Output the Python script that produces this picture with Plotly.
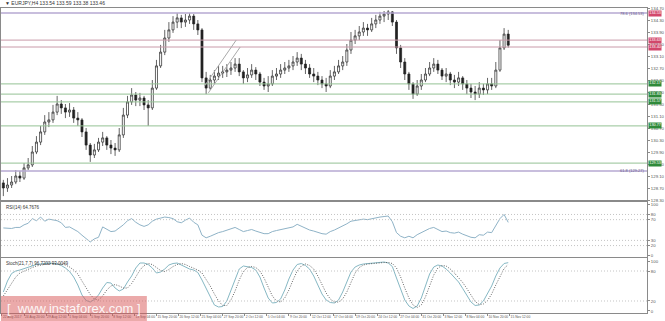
import plotly.graph_objects as go
from plotly.subplots import make_subplots

SYMBOL = "EURJPY,H4"
LAST_BAR = [133.54, 133.59, 133.38, 133.46]
FIRST_OPEN = 128.87

CLOSE = [128.70, 128.80, 128.90, 129.10, 129.03, 129.37, 129.47, 129.90, 130.23, 130.57,
         130.90, 130.97, 131.23, 131.50, 131.37, 131.23, 131.30, 131.03, 130.97, 130.57,
         130.13, 129.80, 129.97, 130.23, 130.37, 130.13, 130.03, 129.97, 130.47, 131.13,
         131.57, 131.80, 131.63, 131.70, 131.47, 131.37, 132.03, 132.77, 133.23, 133.70,
         133.97, 134.23, 134.37, 134.23, 134.30, 134.43, 134.17, 133.97, 132.37, 132.03,
         132.30, 132.43, 132.53, 132.57, 132.63, 132.70, 132.83, 132.57, 132.37, 132.47,
         132.63, 132.50, 132.23, 132.10, 132.17, 132.43, 132.50, 132.63, 132.70, 132.77,
         132.90, 133.03, 132.83, 132.70, 132.50, 132.43, 132.30, 132.17, 132.10, 132.43,
         132.57, 132.77, 132.90, 133.30, 133.63, 133.77, 133.90, 134.03, 133.97, 134.17,
         134.30, 134.43, 134.50, 134.57, 134.23, 133.37, 132.90, 132.50, 132.17, 131.83,
         132.10, 132.30, 132.50, 132.70, 132.83, 132.63, 132.43, 132.50, 132.30, 132.23,
         132.37, 132.17, 132.03, 131.90, 131.83, 132.03, 131.97, 132.17, 132.10, 132.63,
         133.37, 133.83, 133.46]
HIGH = [128.97, 129.03, 129.10, 129.30, 129.27, 129.53, 129.70, 130.10, 130.43, 130.77,
        131.13, 131.23, 131.47, 131.77, 131.63, 131.50, 131.53, 131.40, 131.23, 131.03,
        130.70, 130.20, 130.17, 130.37, 130.57, 130.43, 130.30, 130.20, 130.70, 131.37,
        131.77, 132.03, 131.90, 131.87, 131.77, 131.63, 132.30, 132.97, 133.47, 133.97,
        134.23, 134.43, 134.53, 134.47, 134.50, 134.53, 134.50, 134.30, 134.03, 132.57,
        132.47, 132.63, 132.77, 132.77, 132.83, 132.90, 133.03, 133.03, 132.63, 132.70,
        132.83, 132.73, 132.57, 132.37, 132.43, 132.63, 132.70, 132.83, 132.90, 132.97,
        133.10, 133.23, 133.17, 132.97, 132.83, 132.70, 132.57, 132.43, 132.37, 132.63,
        132.77, 132.97, 133.10, 133.50, 133.90, 133.97, 134.10, 134.23, 134.17, 134.37,
        134.47, 134.57, 134.60, 134.63, 134.60, 134.30, 133.47, 133.03, 132.57, 132.23,
        132.30, 132.50, 132.70, 132.90, 133.03, 132.97, 132.70, 132.70, 132.57, 132.47,
        132.57, 132.43, 132.30, 132.17, 132.10, 132.23, 132.17, 132.37, 132.37, 132.90,
        133.63, 134.03, 133.97]
LOW = [128.43, 128.57, 128.70, 128.83, 128.90, 128.97, 129.30, 129.40, 129.83, 130.13,
       130.47, 130.73, 130.87, 131.13, 131.17, 131.03, 131.07, 130.87, 130.77, 130.40,
       129.97, 129.57, 129.70, 129.90, 130.10, 129.97, 129.83, 129.77, 129.90, 130.37,
       131.03, 131.47, 131.43, 131.43, 131.30, 130.77, 131.30, 131.97, 132.70, 133.13,
       133.57, 133.87, 134.03, 134.03, 134.07, 134.17, 133.97, 133.80, 132.23, 131.83,
       131.97, 132.17, 132.30, 132.37, 132.40, 132.47, 132.57, 132.43, 132.17, 132.23,
       132.37, 132.30, 132.10, 131.97, 131.90, 132.10, 132.30, 132.37, 132.50, 132.57,
       132.63, 132.77, 132.63, 132.50, 132.37, 132.23, 132.13, 132.03, 131.90, 132.03,
       132.30, 132.50, 132.63, 132.77, 133.17, 133.50, 133.63, 133.77, 133.77, 133.90,
       134.03, 134.17, 134.23, 134.30, 134.10, 133.17, 132.70, 132.30, 131.97, 131.67,
       131.77, 131.97, 132.23, 132.43, 132.57, 132.50, 132.30, 132.23, 132.13, 132.03,
       132.10, 131.97, 131.83, 131.70, 131.63, 131.70, 131.80, 131.83, 131.97, 132.03,
       132.57, 133.30, 133.38]

RSI = [54, 53, 53, 55, 55, 60, 63, 72, 68, 75, 67, 71, 70, 68, 64, 55, 56, 52, 47, 40,
       33, 27, 33, 36, 56, 52, 47, 48, 54, 60, 68, 72, 65, 60, 57, 60, 67, 71, 73, 75,
       74, 72, 66, 64, 69, 73, 65, 60, 40, 35, 38, 42, 45, 47, 50, 53, 55, 51, 47, 49,
       51, 48, 45, 43, 43, 47, 49, 51, 52, 54, 56, 61, 57, 54, 50, 48, 45, 43, 42, 47,
       50, 54, 57, 62, 67, 68, 70, 71, 70, 72, 74, 75, 76, 77, 66, 45, 38, 35, 38, 35,
       41, 45, 49, 53, 55, 51, 47, 48, 45, 44, 46, 42, 39, 36, 35, 41, 40, 46, 45, 58,
       72, 80, 64.7676]
STOCH_K = [38, 60, 75, 80, 82, 85, 88, 91, 93, 94, 95, 96, 95, 94, 91, 86, 79, 68, 52, 32,
           21, 18, 23, 32, 46, 57, 56, 46, 40, 44, 58, 70, 86, 96, 96, 93, 86, 76, 78, 84,
           92, 95, 96, 92, 87, 84, 82, 77, 62, 45, 28, 12, 8, 9, 20, 42, 65, 84, 90, 89,
           87, 82, 68, 46, 26, 16, 17, 24, 42, 64, 82, 93, 95, 91, 84, 70, 52, 34, 22, 17,
           16, 22, 38, 60, 78, 88, 92, 94, 95, 96, 97, 97, 98, 96, 89, 66, 42, 22, 10, 5,
           10, 26, 50, 74, 88, 92, 90, 84, 76, 66, 58, 45, 30, 18, 11, 12, 20, 35, 50, 70,
           86, 95, 96.7202]
STOCH_D = [30, 42, 55, 68, 76, 80, 84, 87, 90, 92, 93, 95, 95, 95, 94, 92, 88, 82, 74, 60,
           46, 33, 24, 22, 30, 42, 50, 53, 50, 46, 46, 55, 68, 82, 91, 95, 93, 87, 81, 79,
           83, 89, 93, 95, 93, 89, 85, 82, 76, 64, 50, 34, 20, 11, 11, 22, 40, 62, 79, 87,
           89, 87, 80, 66, 48, 30, 20, 18, 26, 42, 62, 80, 90, 94, 91, 84, 70, 53, 36, 24,
           18, 18, 24, 38, 58, 76, 87, 92, 94, 95, 96, 97, 97, 97, 95, 86, 68, 46, 26, 12,
           7, 12, 28, 50, 72, 86, 91, 90, 84, 76, 67, 57, 45, 31, 19, 13, 14, 21, 34, 52,
           70, 85, 93.0049]

X_LABELS = ["22 Aug 2017", "24 Aug 20:00", "29 Aug 12:00", "1 Sep 04:00", "5 Sep 20:00",
            "8 Sep 12:00", "13 Sep 04:00", "15 Sep 20:00", "20 Sep 12:00", "25 Sep 04:00",
            "27 Sep 20:00", "2 Oct 12:00", "5 Oct 04:00", "9 Oct 20:00", "12 Oct 12:00",
            "17 Oct 04:00", "19 Oct 20:00", "24 Oct 12:00", "27 Oct 04:00", "31 Oct 20:00",
            "3 Nov 12:00", "8 Nov 04:00", "10 Nov 20:00", "15 Nov 12:00"]
PRICE_TICKS = [134.70, 134.30, 133.90, 133.50, 133.10, 132.70, 132.30, 131.90, 131.50,
               131.10, 130.70, 130.30, 129.90, 129.50, 129.10, 128.70, 128.30]
RES_LEVELS = [133.63, 133.40]
SUP_LEVELS = [132.17, 131.83, 131.57, 130.77, 129.53]
FIB_LEVELS = [("78.6", 134.53), ("61.8", 129.27)]
CHANNEL = [((146.8, 132.10), (169.8, 133.63)), ((149.6, 131.87), (172.7, 133.40))]
RSI_LEVELS = [80, 70, 30, 20]
RSI_TICKS = [100, 80, 70, 30, 20, 0]
STOCH_LEVELS = [80, 20]
STOCH_TICKS = [100, 80, 20, 0]

BARS_PER_CANDLE = 3
BARS_PER_LABEL = 16
X_RANGE = [-0.7, 467.6]
Y_RANGE = [128.30, 134.70]

FONT = "Liberation Sans"
AXIS_COL = "#8a8a8a"
TXT_COL = "#555555"
RED = "#d2476b"
RED_LINE = "#c99aa9"
GREEN = "#2f8a3a"
GREEN_LINE = "#94c294"
FIB_COL = "#b6a8d2"

xs = [BARS_PER_CANDLE * i + 1 for i in range(len(CLOSE))]
opens = [FIRST_OPEN] + CLOSE[:-1]

fig = make_subplots(rows=3, cols=1, shared_xaxes=True, vertical_spacing=0)

fig.add_trace(go.Candlestick(
    x=xs, open=opens, high=HIGH, low=LOW, close=CLOSE,
    increasing=dict(line=dict(color="#222222", width=0.7), fillcolor="#ffffff"),
    decreasing=dict(line=dict(color="#222222", width=0.7), fillcolor="#222222"),
    whiskerwidth=0, showlegend=False, hoverinfo="skip"), row=1, col=1)

fig.add_trace(go.Scatter(x=xs, y=RSI, mode="lines",
                         line=dict(color="#8fb3c7", width=1), showlegend=False), row=2, col=1)
fig.add_trace(go.Scatter(x=xs, y=STOCH_K, mode="lines",
                         line=dict(color="#86b8c4", width=1), showlegend=False), row=3, col=1)
fig.add_trace(go.Scatter(x=xs, y=STOCH_D, mode="lines",
                         line=dict(color="#555555", width=0.9, dash="1px,1.5px"),
                         showlegend=False), row=3, col=1)

shapes = []
annots = []
small = dict(family=FONT, size=4, color=TXT_COL)


def box(lvl, color):
    return dict(xref="paper", x=1, xanchor="left", xshift=1, yref="y", y=lvl,
                text=f"{lvl:.2f}", showarrow=False, bgcolor=color, borderpad=0.3,
                font=dict(family=FONT, size=3.8, color="white"))


for lvl in RES_LEVELS:
    shapes.append(dict(type="line", xref="paper", x0=0, x1=1, yref="y", y0=lvl, y1=lvl,
                       line=dict(color=RED_LINE, width=1)))
    annots.append(box(lvl, RED))
for lvl in SUP_LEVELS:
    shapes.append(dict(type="line", xref="paper", x0=0, x1=1, yref="y", y0=lvl, y1=lvl,
                       line=dict(color=GREEN_LINE, width=1)))
    annots.append(box(lvl, GREEN))
for name, lvl in FIB_LEVELS:
    shapes.append(dict(type="line", xref="paper", x0=0, x1=1, yref="y", y0=lvl, y1=lvl,
                       line=dict(color=FIB_COL, width=1.5)))
    annots.append(dict(xref="paper", x=1, xanchor="right", xshift=-1, yref="y", y=lvl,
                       yanchor="middle", text=f"{name} ({lvl:.2f})", showarrow=False,
                       font=dict(family=FONT, size=4, color="#6a5a8c")))
annots.append(box(FIB_LEVELS[0][1], RED))

for (a, b) in CHANNEL:
    shapes.append(dict(type="line", xref="x", yref="y", x0=a[0], y0=a[1], x1=b[0], y1=b[1],
                       line=dict(color="#aaaaaa", width=1)))

for lvl in RSI_LEVELS:
    shapes.append(dict(type="line", xref="paper", x0=0, x1=1, yref="y2", y0=lvl, y1=lvl,
                       line=dict(color="#c4c4c4", width=1, dash="1px,2px")))
for lvl in STOCH_LEVELS:
    shapes.append(dict(type="line", xref="paper", x0=0, x1=1, yref="y3", y0=lvl, y1=lvl,
                       line=dict(color="#c4c4c4", width=1, dash="1px,2px")))

# watermark
shapes.append(dict(type="rect", xref="paper", yref="paper", x0=0, x1=0.2258, y0=-0.03, y1=0.0557,
                   fillcolor="rgba(215,85,85,0.5)", line=dict(width=0), layer="above"))
annots.append(dict(xref="paper", yref="paper", x=0.113, y=0.015, xanchor="center", yanchor="middle",
                   text="[  www.instaforex.com ]", showarrow=False,
                   font=dict(family=FONT, size=13, color="rgba(255,255,255,0.92)")))

header = "\u25bc " + SYMBOL + " " + " ".join(f"{v:.2f}" for v in LAST_BAR)
annots.append(dict(xref="paper", yref="paper", x=0, y=1, xanchor="left", yanchor="bottom",
                   xshift=2, yshift=0, text=header, showarrow=False,
                   font=dict(family=FONT, size=5, color="#333333")))
annots.append(dict(xref="paper", yref="y2 domain", x=0, y=1, xanchor="left", yanchor="top",
                   xshift=3, yshift=-1, text=f"RSI(14) {RSI[-1]:.4f}", showarrow=False,
                   font=dict(family=FONT, size=4.5, color="#333333")))
annots.append(dict(xref="paper", yref="y3 domain", x=0, y=1, xanchor="left", yanchor="top",
                   xshift=3, yshift=-1,
                   text=f"Stoch(21,7,7) {STOCH_K[-1]:.4f} {STOCH_D[-1]:.4f}", showarrow=False,
                   font=dict(family=FONT, size=4.5, color="#333333")))

axis_common = dict(showline=True, mirror=True, linecolor=AXIS_COL, linewidth=1,
                   showgrid=False, zeroline=False)
tick_font = dict(family=FONT, size=4.3, color=TXT_COL)
xtick_font = dict(family=FONT, size=3.3, color=TXT_COL)

fig.update_layout(
    width=665, height=321,
    margin=dict(l=0, r=14, t=8, b=8),
    paper_bgcolor="white", plot_bgcolor="white",
    shapes=shapes, annotations=annots,
    hovermode=False,
    xaxis=dict(domain=[0, 1], range=X_RANGE, rangeslider=dict(visible=False),
               showticklabels=False, ticks="", **axis_common),
    xaxis2=dict(domain=[0, 1], range=X_RANGE, showticklabels=False, ticks="", **axis_common),
    xaxis3=dict(domain=[0, 1], range=X_RANGE, tickmode="array",
                tickvals=[i * BARS_PER_LABEL for i in range(len(X_LABELS))], ticktext=X_LABELS,
                ticks="outside", ticklen=2, tickcolor=AXIS_COL, tickfont=xtick_font,
                ticklabelposition="outside right", tickangle=0, **axis_common),
    yaxis=dict(domain=[0.3705, 1.0], range=Y_RANGE, side="right", tickmode="array",
               tickvals=PRICE_TICKS, ticktext=[f"{v:.2f}" for v in PRICE_TICKS],
               ticks="outside", ticklen=2, tickcolor=AXIS_COL, tickfont=tick_font, **axis_common),
    yaxis2=dict(domain=[0.1836, 0.3639], range=[-2, 104], side="right", tickmode="array",
                tickvals=RSI_TICKS, ticks="outside", ticklen=2, tickcolor=AXIS_COL,
                tickfont=tick_font, **axis_common),
    yaxis3=dict(domain=[0.0, 0.1803], range=[-4, 106], side="right", tickmode="array",
                tickvals=STOCH_TICKS, ticks="outside", ticklen=2, tickcolor=AXIS_COL,
                tickfont=tick_font, **axis_common),
)

fig.write_html("out.html")
